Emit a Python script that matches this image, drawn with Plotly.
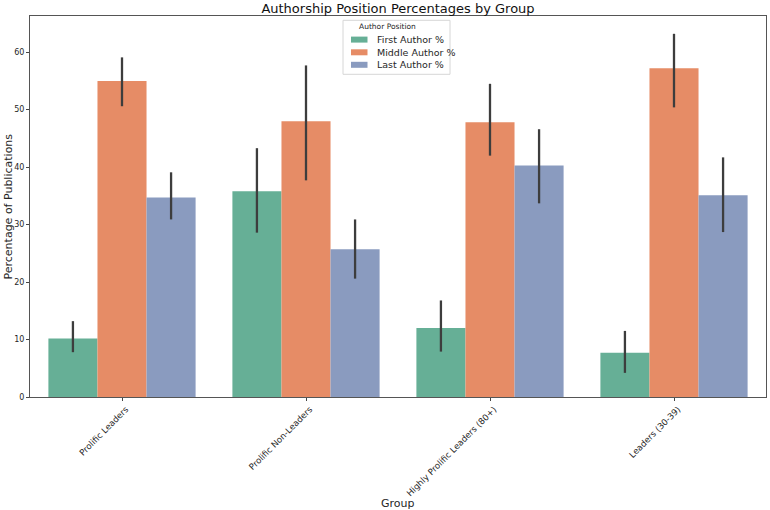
import plotly.graph_objects as go

groups = ["Prolific Leaders", "Prolific Non-Leaders", "Highly Prolific Leaders (80+)", "Leaders (30-39)"]
series_names = ["First Author %", "Middle Author %", "Last Author %"]
first_vals = [10.2, 35.8, 12.0, 7.7]
first_hi = [13.2, 43.3, 16.8, 11.5]
first_lo = [7.8, 28.6, 7.9, 4.2]
middle_vals = [55.0, 48.0, 47.8, 57.2]
middle_hi = [59.1, 57.7, 54.5, 63.2]
middle_lo = [50.6, 37.7, 42.0, 50.4]
last_vals = [34.7, 25.7, 40.3, 35.1]
last_hi = [39.1, 30.9, 46.6, 41.7]
last_lo = [30.9, 20.6, 33.7, 28.7]
colors = ["#66af96", "#e68c66", "#8a9bbf"]

fig = go.Figure()
for name, vals, hi, lo, col in [
    (series_names[0], first_vals, first_hi, first_lo, colors[0]),
    (series_names[1], middle_vals, middle_hi, middle_lo, colors[1]),
    (series_names[2], last_vals, last_hi, last_lo, colors[2]),
]:
    fig.add_trace(go.Bar(
        name=name, x=groups, y=vals, marker_color=col, marker_line_width=0,
        showlegend=False,
        error_y=dict(type="data", symmetric=False,
                     array=[h - v for h, v in zip(hi, vals)],
                     arrayminus=[v - l for v, l in zip(vals, lo)],
                     color="#3d3d3d", thickness=2.3, width=0),
    ))

# plot-area geometry (pixels) for the hand-drawn legend
L, R, T, B = 30, 766, 15.7, 396.7
W, H = R - L, B - T
def px(x):
    return (x - L) / W
def py(y):
    return (B - y) / H

shapes = [dict(type="rect", xref="paper", yref="paper",
               x0=px(343), x1=px(450), y0=py(74), y1=py(20),
               line=dict(color="#d6d6d6", width=1), fillcolor="rgba(255,255,255,0.85)", layer="above")]
annotations = [dict(text="Author Position", xref="paper", yref="paper", x=px(387), y=py(26.5),
                    showarrow=False, xanchor="center", yanchor="middle",
                    font=dict(size=7.5, color="#262626"))]
item_y = [39.3, 52, 64.5]
for name, col, yy in zip(series_names, colors, item_y):
    shapes.append(dict(type="rect", xref="paper", yref="paper",
                       x0=px(351), x1=px(367.5), y0=py(yy + 3), y1=py(yy - 3),
                       line=dict(width=0), fillcolor=col, layer="above"))
    annotations.append(dict(text=name, xref="paper", yref="paper", x=px(375), y=py(yy),
                            showarrow=False, xanchor="left", yanchor="middle",
                            font=dict(size=9.5, color="#262626")))
annotations.append(dict(text="Group", xref="paper", yref="paper", x=0.5, y=py(503),
                        showarrow=False, xanchor="center", yanchor="middle",
                        font=dict(size=11, color="#262626")))
annotations.append(dict(text="Percentage of Publications", xref="paper", yref="paper",
                        x=px(8), y=0.5, textangle=-90, showarrow=False,
                        xanchor="center", yanchor="middle",
                        font=dict(size=11, color="#262626")))

font = "DejaVu Sans"
fig.update_layout(
    width=770, height=510,
    margin=dict(l=30, r=4, t=16, b=113),
    barmode="group", bargap=0.2, bargroupgap=0,
    plot_bgcolor="white", paper_bgcolor="white",
    font=dict(family=font, color="#262626"),
    title=dict(text="Authorship Position Percentages by Group", x=0.5, xanchor="center",
               xref="paper", y=0.984, yanchor="middle", font=dict(size=13, color="#111")),
    shapes=shapes, annotations=annotations,
    xaxis=dict(automargin=False,
               tickangle=-45, tickfont=dict(size=8.6), ticks="outside", ticklen=3,
               ticklabelshift=4,
               tickcolor="#444", showline=True, linecolor="#555", linewidth=1,
               mirror=True, showgrid=False),
    yaxis=dict(automargin=False,
               range=[0, 66.3], tickvals=[0, 10, 20, 30, 40, 50, 60], tickfont=dict(size=8),
               ticks="outside", ticklen=3, tickcolor="#444", showline=True, linecolor="#555",
               linewidth=1, mirror=True, showgrid=False, zeroline=False),
)
fig.write_html("out.html")
